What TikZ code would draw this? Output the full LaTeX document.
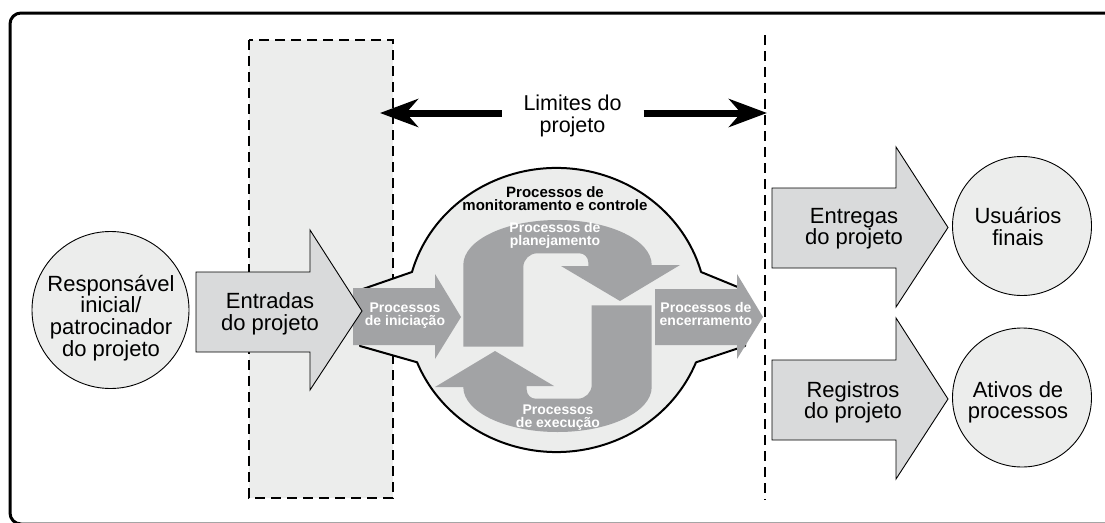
\documentclass[tikz,border=0pt]{standalone}
\usepackage{fontspec}
\setmainfont{Liberation Sans}
\usetikzlibrary{arrows.meta}
\definecolor{lightfill}{HTML}{ECEDEC}
\definecolor{arrowfill}{HTML}{D9DADB}
\definecolor{procgray}{HTML}{A2A3A5}
\tikzset{
  bigtxt/.style={font=\fontsize{22}{21.7}\selectfont, align=center, inner sep=0pt},
  whitetxt/.style={font=\fontsize{14}{13.2}\selectfont\bfseries, text=white, align=center, inner sep=0pt},
  blacktxt/.style={font=\fontsize{15}{13.2}\selectfont\bfseries, align=center, inner sep=0pt},
  bigarrow/.style={fill=arrowfill, draw=black, line width=0.9pt, line join=miter},
  procshape/.style={fill=procgray, draw=none},
  entity/.style={circle, draw=black, fill=lightfill, line width=0.9pt, inner sep=0pt},
  boundary/.style={draw=black, line width=2.3pt, dash pattern=on 10pt off 6pt},
  limarrow/.style={line width=7pt, -{Stealth[length=38pt,width=28pt,inset=12pt]}},
  blob/.style={fill=lightfill, draw=black, line width=2pt, line join=round},
}
\begin{document}
\begin{tikzpicture}[x=1pt,y=-1pt]
\useasboundingbox (0,0) rectangle (1105,522);
\clip (0,0) rectangle (1105,522);
\fill[white] (0,0) rectangle (1105,522);
% outer frame
\draw[line width=3pt, rounded corners=11pt] (10,13) rectangle (1125,524);
% project boundary box (inputs zone)
\fill[lightfill] (249,40) rectangle (393,498);
\draw[boundary] (249,40) rectangle (393,498);
\draw[boundary] (765,35) -- (765,500);
% limits label and arrows
\node[bigtxt, font=\fontsize{21.5}{21.5}\selectfont, minimum width=141.6pt, minimum height=40pt, fill=white] (lim) at (572.5,116) {Limites do\\projeto};
\coordinate (limL) at (380,113);
\coordinate (limR) at (767,113);
\draw[limarrow] (lim.west |- limL) -- (limL);
\draw[limarrow] (lim.east |- limR) -- (limR);
% sponsor circle
\node[entity, minimum size=157pt] (sponsor) at (110.5,310) {};
\node[bigtxt] (sponsortxt) at (111,318) {Responsável\\inicial/\\patrocinador\\do projeto};
% central blob
\path[blob] (360,290) -- (412,272)
  arc[start angle=195.5, end angle=344.5, x radius=150, y radius=142]
  -- (745,290) -- (745,346) -- (696,362.3)
  arc[start angle=21.6, end angle=158.4, x radius=150, y radius=142]
  -- (360,346) -- cycle;
% planning arrow
\path[procshape] (463.3,346.7) -- (463.3,265)
  arc[start angle=180, end angle=360, x radius=94.2, y radius=45]
  -- (680,265) -- (620,301) -- (561,266) -- (588.3,266) -- (588.3,262.3)
  arc[start angle=0, end angle=-90, radius=9]
  -- (537.3,253.3)
  arc[start angle=270, end angle=180, radius=14]
  -- (523.3,346.7) -- cycle;
% execution arrow (point reflection of planning arrow)
\path[procshape, rotate around={180:(557.5,326)}] (463.3,346.7) -- (463.3,265)
  arc[start angle=180, end angle=360, x radius=94.2, y radius=45]
  -- (680,265) -- (620,301) -- (561,266) -- (588.3,266) -- (588.3,262.3)
  arc[start angle=0, end angle=-90, radius=9]
  -- (537.3,253.3)
  arc[start angle=270, end angle=180, radius=14]
  -- (523.3,346.7) -- cycle;
% initiating and closing arrows
\path[procshape] (353,288) -- (435,288) -- (435,274) -- (461,317) -- (435,359) -- (435,345) -- (353,345) -- cycle;
\path[procshape] (655,289) -- (737,289) -- (737,274) -- (763,317) -- (737,359) -- (737,345) -- (655,345) -- cycle;
% process labels
\node[blacktxt] (monit) at (555,198.3) {Processos de\\monitoramento e controle};
\node[whitetxt] (plan) at (555,235.4) {Processos de\\planejamento};
\node[whitetxt] (exec) at (558,418) {Processos\\de execução};
\node[whitetxt] (init) at (405,315.5) {Processos\\de iniciação};
\node[whitetxt] (close) at (706,314) {Processos de\\encerramento};
% inputs arrow
\path[bigarrow] (196,272) -- (310,272) -- (310,230) -- (362,311) -- (310,390) -- (310,352) -- (196,352) -- cycle;
\node[bigtxt] (inputs) at (270,313.5) {Entradas\\do projeto};
% deliverables and records arrows
\path[bigarrow] (772,188) -- (896,188) -- (896,147) -- (948,227.5) -- (896,307) -- (896,268) -- (772,268) -- cycle;
\node[bigtxt] (deliv) at (854,228.8) {Entregas\\do projeto};
\path[bigarrow] (772,360) -- (896,360) -- (896,318) -- (948,399) -- (896,479) -- (896,440) -- (772,440) -- cycle;
\node[bigtxt] (records) at (853,402.3) {Registros\\do projeto};
% end circles
\node[entity, minimum size=139pt] (users) at (1022,226) {};
\node[bigtxt] (userstxt) at (1018,226.7) {Usuários\\finais};
\node[entity, minimum size=139pt] (assets) at (1022,397.5) {};
\node[bigtxt] (assetstxt) at (1018,402.3) {Ativos de\\processos};
\end{tikzpicture}
\end{document}
